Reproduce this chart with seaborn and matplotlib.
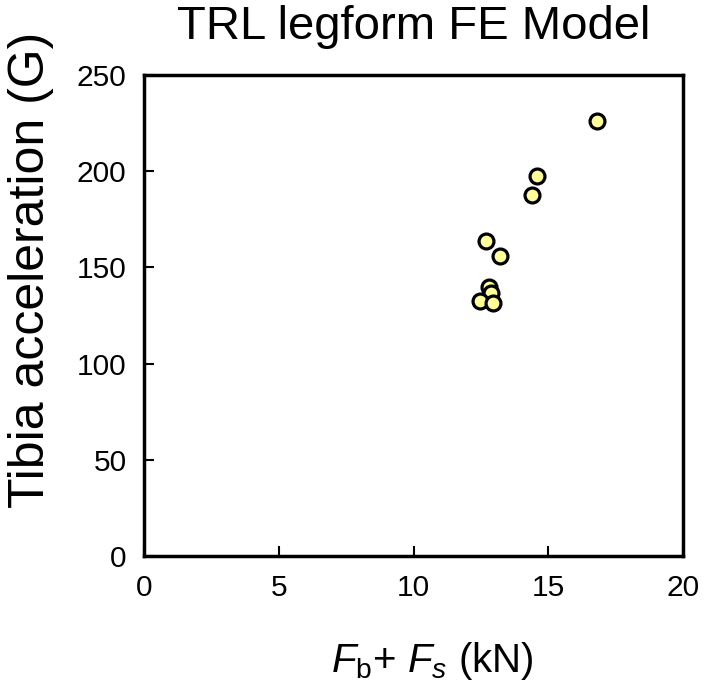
import pandas as pd
import seaborn as sns
import matplotlib.pyplot as plt

# values
force_kn = [16.79, 14.56, 14.40, 12.68, 13.21, 12.79, 12.87, 12.47, 12.95]
tibia_g = [226.3, 197.6, 187.5, 163.5, 156.2, 139.9, 136.8, 132.6, 131.6]
x_ticks = [0, 5, 10, 15, 20]
y_ticks = [0, 50, 100, 150, 200, 250]

df = pd.DataFrame({'force': force_kn, 'accel': tibia_g})

sns.set_style('white')
plt.rcParams['font.family'] = ['Liberation Sans', 'DejaVu Sans']
plt.rcParams['text.color'] = 'black'
plt.rcParams['axes.labelcolor'] = 'black'
plt.rcParams['xtick.color'] = 'black'
plt.rcParams['ytick.color'] = 'black'
plt.rcParams['mathtext.fontset'] = 'custom'
plt.rcParams['mathtext.rm'] = 'Liberation Sans'
plt.rcParams['mathtext.it'] = 'Liberation Sans:italic'

fig = plt.figure(figsize=(7.09, 6.84), dpi=100)
ax = fig.add_axes([0.2038, 0.1871, 0.7595, 0.7032])

sns.scatterplot(data=df, x='force', y='accel', ax=ax, s=115,
                color='#ffff99', edgecolor='black', linewidth=2.3, zorder=3)

ax.set_xlim(0, 20)
ax.set_ylim(0, 250)
ax.set_xticks(x_ticks)
ax.set_yticks(y_ticks)
ax.tick_params(direction='in', length=7, width=1.5, labelsize=21.5,
               bottom=True, left=True, top=False, right=False, pad=13)
for sp in ax.spines.values():
    sp.set_linewidth(2.5)
    sp.set_color('black')

ax.set_title('TRL legform FE Model', fontsize=34, pad=26, color='black')
ax.set_xlabel(r'$F_{\mathrm{b}}$+ $F_s$ (kN)', fontsize=29)
ax.set_ylabel('Tibia acceleration (G)', fontsize=36)
ax.xaxis.set_label_coords(0.534, -0.175)
ax.yaxis.set_label_coords(-0.168, 0.595)

fig.savefig('out.png', dpi=100)
